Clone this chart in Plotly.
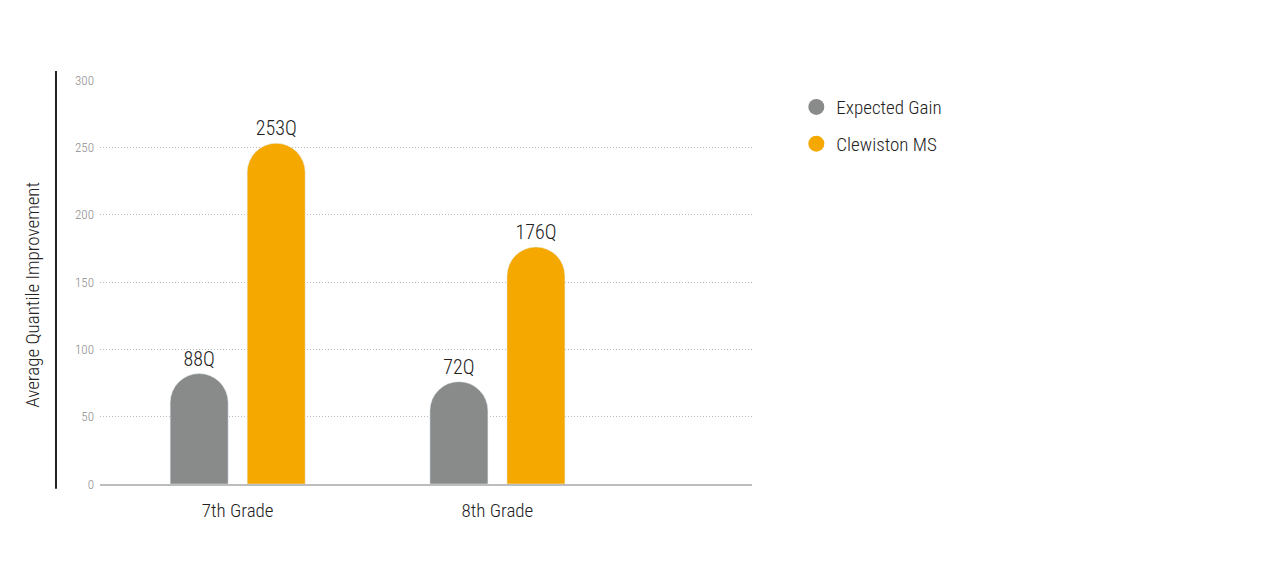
import plotly.graph_objects as go

grades = ['7th Grade', '8th Grade']
expected_gain = [82, 76]
expected_labels = ['88Q', '72Q']
clewiston = [253, 176]
clewiston_labels = ['253Q', '176Q']

gray = '#898B8B'
orange = '#F5A800'
font = "'Liberation Sans Narrow', 'Roboto Condensed', 'DejaVu Sans Condensed', 'Arial Narrow', sans-serif"

fig = go.Figure()
fig.add_trace(go.Bar(x=grades, y=expected_gain, name='Expected Gain',
                     marker=dict(color=gray, cornerradius='50%'),
                     text=expected_labels, textposition='outside',
                     textfont=dict(size=20, color='#222222', weight=300),
                     cliponaxis=False, showlegend=False))
fig.add_trace(go.Bar(x=grades, y=clewiston, name='Clewiston MS',
                     marker=dict(color=orange, cornerradius='50%'),
                     text=clewiston_labels, textposition='outside',
                     textfont=dict(size=20, color='#222222', weight=300),
                     cliponaxis=False, showlegend=False))

# circle markers for the legend only
for name, col in [('Expected Gain', gray), ('Clewiston MS', orange)]:
    fig.add_trace(go.Scatter(x=[None], y=[None], mode='markers', name=name,
                             legendgroup=name,
                             marker=dict(color=col, size=20, symbol='circle')))

# page body has an 8px margin, so margins are reduced by 8
fig.update_layout(
    width=1280, height=567,
    margin=dict(l=92, r=536, t=72, b=91),
    paper_bgcolor='white', plot_bgcolor='white',
    font=dict(family=font, color='#222222', weight=300),
    barmode='group', bargap=0.407, bargroupgap=0.247,
    legend=dict(x=1.068, y=0.98, xanchor='left', yanchor='top',
                font=dict(size=19, color='#222222', weight=300),
                tracegroupgap=9, itemwidth=30),
    xaxis=dict(range=[-0.53, 1.98], showline=True, linecolor='#BDBDBD',
               linewidth=1.5, showgrid=False, ticks='',
               ticklabelstandoff=8,
               tickfont=dict(size=19, color='#222222', weight=300)),
    yaxis=dict(range=[0, 300], dtick=50, showgrid=True, gridcolor='#BBBBBB',
               griddash='1px,2px', gridwidth=1, zeroline=False, ticks='',
               ticklabelstandoff=5,
               tickfont=dict(size=13, color='#8C8C8C', weight=300)),
    shapes=[dict(type='line', xref='paper', yref='paper',
                 x0=-0.0675, x1=-0.0675, y0=-0.012, y1=1.022,
                 line=dict(color='#222222', width=2))],
    annotations=[dict(text='Average Quantile Improvement', textangle=-90,
                      xref='paper', yref='paper', x=-0.103, y=0.468,
                      xanchor='center', yanchor='middle',
                      showarrow=False,
                      font=dict(size=19, color='#222222', weight=300))],
)

fig.write_html('out.html')
